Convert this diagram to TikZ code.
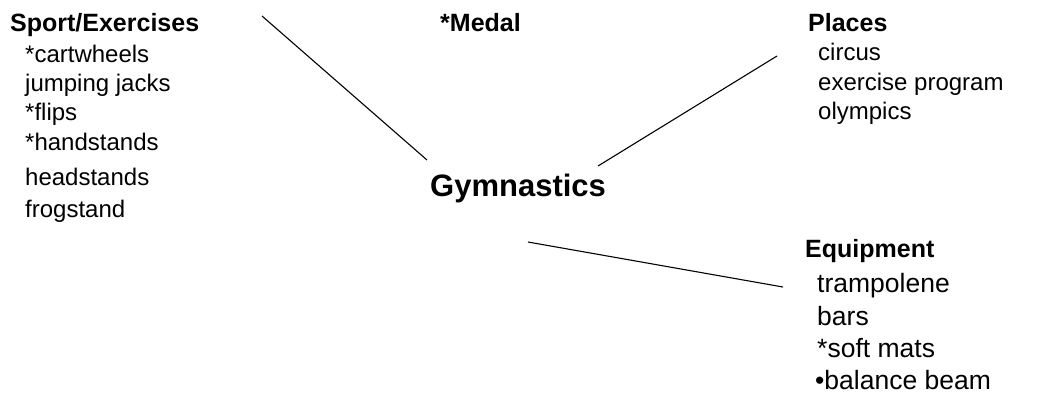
\documentclass[tikz,border=0pt]{standalone}
\usepackage{fontspec}
\setmainfont{Liberation Sans}
\begin{document}
\begin{tikzpicture}[x=1pt,y=-1pt,
  head/.style={anchor=base west,inner sep=0pt,font=\fontsize{25}{25}\selectfont\bfseries},
  item/.style={anchor=base west,inner sep=0pt,font=\fontsize{24}{24}\selectfont},
  bigitem/.style={anchor=base west,inner sep=0pt,font=\fontsize{26.5}{26.5}\selectfont},
  center/.style={anchor=base west,inner sep=0pt,font=\fontsize{31}{31}\selectfont\bfseries},
  link/.style={draw=black,line width=1.1pt}]
\useasboundingbox (0,0) rectangle (1039,400);
% left group
\node[head] (sport) at (10,31) {Sport/Exercises};
\node[item] (s1) at (25,62) {*cartwheels};
\node[item] (s2) at (25,91) {jumping jacks};
\node[item] (s3) at (25,120) {*flips};
\node[item] (s4) at (25,150) {*handstands};
\node[item] (s5) at (25,185) {headstands};
\node[item] (s6) at (25,217) {frogstand};
% medal
\node[head] (medal) at (440,31) {*Medal};
% places
\node[head] (places) at (808,31) {Places};
\node[item] (p1) at (818,60) {circus};
\node[item] (p2) at (818,90) {exercise program};
\node[item] (p3) at (818,119) {olympics};
% center
\node[center] (gym) at (430,196) {Gymnastics};
% equipment
\node[head] (equip) at (805,257) {Equipment};
\node[bigitem] (e1) at (817,292) {trampolene};
\node[bigitem] (e2) at (817,325) {bars};
\node[bigitem] (e3) at (817,357) {*soft mats};
\node[bigitem] (e4) at (815,389) {\textbullet balance beam};
% connector ends
\coordinate (a1) at (262,16);
\coordinate (a2) at (427,160);
\coordinate (b1) at (598,166);
\coordinate (b2) at (777,56);
\coordinate (c1) at (528,242);
\coordinate (c2) at (783,287);
\draw[link] (a1) -- (a2);
\draw[link] (b1) -- (b2);
\draw[link] (c1) -- (c2);
\end{tikzpicture}
\end{document}
